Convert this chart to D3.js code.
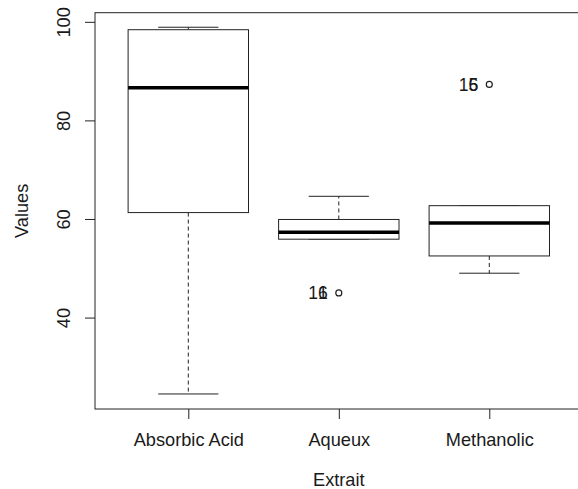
<!DOCTYPE html>
<html>
<head>
<meta charset="utf-8">
<script src="https://cdn.jsdelivr.net/npm/d3@7"></script>
<style>
  body { margin: 0; background: #fff; }
  text { font-family: "Liberation Sans", Arial, sans-serif; fill: #1a1a1a; }
</style>
</head>
<body>
<div id="chart"></div>
<script>
const categories = ['Absorbic Acid', 'Aqueux', 'Methanolic'];
const whiskerLow = [24.5, 55.9, 49.0];
const q1 = [61.3, 55.9, 52.5];
const medians = [86.6, 57.3, 59.2];
const q3 = [98.4, 59.9, 62.7];
const whiskerHigh = [98.9, 64.6, 62.7];
// outliers: [category index, value, labels]
const outliers = [
  {cat: 1, value: 45.0, labels: ['16', '1']},
  {cat: 2, value: 87.3, labels: ['15', '6']}
];
const yTicks = [40, 60, 80, 100];

const width = 578, height = 489;
const frame = {left: 95, right: 582.6, top: 12.7, bottom: 409};
const fontSize = '18.2px';

const svg = d3.select('#chart').append('svg').attr('width', width).attr('height', height);

const x = d3.scaleLinear().domain([0.38, 3.62]).range([frame.left, frame.right]);
const y = d3.scaleLinear().domain([21.45, 101.85]).range([frame.bottom, frame.top]);
const boxW = x(1.8) - x(1);
const capW = boxW / 2;
const stroke = '#222';

// frame
svg.append('rect').attr('x', frame.left).attr('y', frame.top)
  .attr('width', frame.right - frame.left).attr('height', frame.bottom - frame.top)
  .attr('fill', 'none').attr('stroke', stroke).attr('stroke-width', 1);

// y axis
const yAxis = svg.append('g').attr('transform', 'translate(' + frame.left + ',0)')
  .call(d3.axisLeft(y).tickValues(yTicks).tickSize(10).tickPadding(0).tickFormat(d3.format('d')));
yAxis.select('.domain').remove();
yAxis.selectAll('line').attr('stroke', stroke);
yAxis.selectAll('text').attr('transform', 'translate(-25,0) rotate(-90)')
  .attr('x', 0).attr('y', 0).attr('dy', 0).attr('text-anchor', 'middle')
  .style('font-size', fontSize).style('font-family', '"Liberation Sans", Arial, sans-serif').attr('fill', '#1a1a1a');

// x axis
const xAxis = svg.append('g').attr('transform', 'translate(0,' + frame.bottom + ')')
  .call(d3.axisBottom(x).tickValues([1, 2, 3]).tickSize(10).tickFormat(function (d) { return categories[d - 1]; }));
xAxis.select('.domain').remove();
xAxis.selectAll('line').attr('stroke', stroke);
xAxis.selectAll('text').attr('y', 0).attr('dy', 0)
  .attr('transform', 'translate(0,37)')
  .style('font-size', fontSize).style('font-family', '"Liberation Sans", Arial, sans-serif').attr('fill', '#1a1a1a');

// axis titles
svg.append('text').attr('x', x(2)).attr('y', 486).attr('text-anchor', 'middle')
  .style('font-size', fontSize).text('Extrait');
svg.append('text').attr('transform', 'translate(28,' + ((frame.top + frame.bottom) / 2) + ') rotate(-90)')
  .attr('text-anchor', 'middle').style('font-size', fontSize).text('Values');

// boxes
const boxes = svg.append('g').attr('class', 'boxes');
categories.forEach(function (c, i) {
  const cx = x(i + 1);
  const g = boxes.append('g');
  // whiskers
  g.append('line').attr('x1', cx).attr('x2', cx).attr('y1', y(q3[i])).attr('y2', y(whiskerHigh[i]))
    .attr('stroke', stroke).attr('stroke-dasharray', '4,3');
  g.append('line').attr('x1', cx).attr('x2', cx).attr('y1', y(q1[i])).attr('y2', y(whiskerLow[i]))
    .attr('stroke', stroke).attr('stroke-dasharray', '4,3');
  // caps
  [whiskerLow[i], whiskerHigh[i]].forEach(function (v) {
    g.append('line').attr('x1', cx - capW / 2).attr('x2', cx + capW / 2).attr('y1', y(v)).attr('y2', y(v))
      .attr('stroke', stroke);
  });
  // box
  g.append('rect').attr('x', cx - boxW / 2).attr('y', y(q3[i]))
    .attr('width', boxW).attr('height', y(q1[i]) - y(q3[i]))
    .attr('fill', '#fff').attr('stroke', stroke);
  // median
  g.append('line').attr('x1', cx - boxW / 2).attr('x2', cx + boxW / 2)
    .attr('y1', y(medians[i])).attr('y2', y(medians[i]))
    .attr('stroke', '#000').attr('stroke-width', 3.5);
});

// outliers
const out = svg.append('g').attr('class', 'outliers');
outliers.forEach(function (o) {
  out.append('circle').attr('cx', x(o.cat + 1)).attr('cy', y(o.value)).attr('r', 3)
    .attr('fill', 'none').attr('stroke', stroke).attr('stroke-width', 1.2);
  o.labels.forEach(function (l) {
    out.append('text').attr('x', x(o.cat + 1) - 11).attr('y', y(o.value)).attr('dy', '0.36em')
      .attr('text-anchor', 'end').style('font-size', '17.5px').text(l);
  });
});
</script>
</body>
</html>
